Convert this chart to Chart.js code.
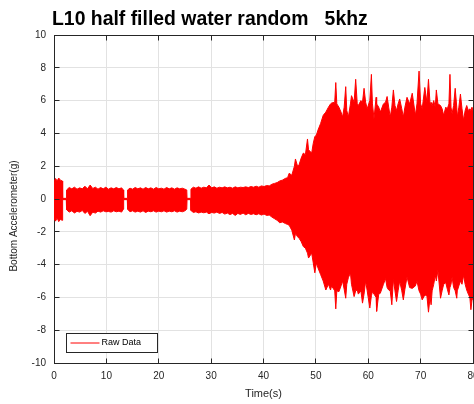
<!DOCTYPE html>
<html>
<head>
<meta charset="utf-8">
<script src="https://cdn.jsdelivr.net/npm/chart.js@4.4.1/dist/chart.umd.min.js"></script>
<style>
  html, body { margin: 0; padding: 0; background: #fff; overflow: hidden; }
  #wrap { width: 474px; height: 404px; overflow: hidden; }
</style>
</head>
<body>
<div id="wrap"><canvas id="chart" width="500" height="404"></canvas></div>
<script>
// envelope of the raw signal (seconds, g)
const sampleTime = [
  0, 0.3, 0.6, 0.9, 1.2, 1.6, 1.65, 2.35,
  2.4, 2.9, 3.4, 3.9, 4.4, 4.9, 5.4, 5.9, 6.4, 6.9, 7.4, 7.9, 8.4, 8.9, 9.4, 9.9, 10.4, 10.9, 11.4, 11.9, 12.4, 12.9, 13.25, 13.3, 14.0,
  14.05, 14.5, 15.0, 15.5, 16.0, 16.5, 17.0, 17.5, 18.0, 18.5, 19.0, 19.5, 20.0, 20.5, 21.0, 21.5, 22.0, 22.5, 23.0, 23.5, 24.0, 24.5, 25.0, 25.35, 25.4, 26.1,
  26.15, 26.6, 27.1, 27.6, 28.1, 28.6, 29.1, 29.6, 30.1, 30.6, 31.1, 31.6, 32.1, 32.6, 33.1, 33.6, 34.1, 34.6, 35.1, 35.6, 36.1, 36.6, 37.1, 37.6, 38.1, 38.6, 39.1, 39.6, 40.1, 40.6, 41.1, 41.6, 42.1, 42.6, 43.1, 43.6,
  44.2, 44.6, 44.9, 45.4, 45.9, 46.1, 46.5, 46.8, 47.2, 47.6, 48.0, 48.4, 48.6, 49.2, 49.5, 49.8, 50.1, 50.4, 50.9, 51.4, 51.9, 52.4, 52.8, 53.0, 53.6, 53.8, 54.0, 54.4, 54.8, 55.1, 55.4, 55.7, 55.9, 56.2, 56.6, 56.8, 57.3, 57.6, 57.9, 58.1, 58.6, 58.9, 59.2, 59.5, 59.8, 60.3, 60.6, 60.8, 61.1, 61.5, 61.6, 62.0,
  62.3, 62.9, 63.3, 63.6, 63.9, 64.2, 64.5, 64.8, 65.1, 65.4, 65.7, 66.0, 66.4, 66.7, 67.0, 67.4, 67.9, 68.4, 69.0, 69.3, 69.7, 70.0, 70.3, 70.8, 71.2, 71.5, 71.8, 72.0, 72.2, 72.5, 72.8, 73.0, 73.3, 73.8, 74.1, 74.4, 74.8, 75.1, 75.4, 75.6, 75.8, 76.0, 76.3, 76.6, 76.9, 77.0, 77.3, 77.6, 77.9, 78.2, 78.5, 78.8, 79.1, 79.4, 79.6, 79.8, 80.0
];
const upperEnvelope = [
  1.05, 1.25, 1.1, 1.28, 1.15, 1.1, 0.04, 0.04,
  0.55, 0.7, 0.62, 0.72, 0.6, 0.68, 0.62, 0.78, 0.62, 0.85, 0.64, 0.72, 0.6, 0.7, 0.62, 0.72, 0.6, 0.68, 0.62, 0.7, 0.62, 0.68, 0.55, 0.04, 0.04,
  0.55, 0.66, 0.6, 0.7, 0.62, 0.68, 0.6, 0.7, 0.62, 0.68, 0.6, 0.7, 0.62, 0.66, 0.6, 0.7, 0.62, 0.68, 0.6, 0.68, 0.62, 0.66, 0.6, 0.55, 0.04, 0.04,
  0.6, 0.72, 0.66, 0.74, 0.66, 0.72, 0.68, 0.85, 0.68, 0.74, 0.66, 0.72, 0.68, 0.74, 0.68, 0.72, 0.66, 0.74, 0.68, 0.72, 0.7, 0.74, 0.7, 0.76, 0.72, 0.78, 0.72, 0.8, 0.76, 0.82, 0.8, 0.9, 0.95, 1.0, 1.1, 1.15,
  1.26, 1.3, 1.57, 1.45, 2.0, 2.44, 2.0, 2.1, 2.5, 2.8, 2.7, 3.66, 3.0, 2.8, 3.4, 3.8, 3.9, 4.2, 4.6, 5.1, 5.3, 5.6, 5.8, 5.85, 5.9, 7.1, 5.8, 5.6, 5.3, 5.0, 5.6, 6.85, 5.4, 5.0, 5.8, 6.3, 5.9, 7.3, 5.8, 5.7, 6.0, 5.9, 6.75, 5.9, 5.5, 6.0, 7.6, 5.8, 4.9, 6.2, 5.8, 5.6,
  5.3, 5.8, 5.9, 6.25, 5.6, 5.0, 5.6, 6.65, 5.7, 5.4, 5.8, 6.1, 5.5, 5.0, 5.6, 6.2, 5.8, 6.45, 5.1, 5.8, 7.8, 5.8, 5.5, 6.8, 5.9, 7.3, 5.8, 5.9, 5.7, 6.0, 5.6, 6.65, 5.8, 5.7, 5.5, 5.1, 5.6, 5.5, 5.8, 7.6, 5.6, 5.2, 5.7, 6.75, 5.6, 5.0, 5.6, 6.4, 5.5, 4.8, 5.4, 5.7, 5.4, 5.5, 5.4, 5.6, 5.4
];
const lowerEnvelope = [
  -1.2, -1.35, -1.15, -1.38, -1.25, -1.3, -0.04, -0.04,
  -0.65, -0.8, -0.72, -0.85, -0.75, -0.8, -0.7, -0.88, -0.75, -1.02, -0.8, -0.86, -0.74, -0.8, -0.72, -0.78, -0.76, -0.8, -0.72, -0.78, -0.74, -0.8, -0.62, -0.04, -0.04,
  -0.62, -0.78, -0.72, -0.8, -0.74, -0.8, -0.72, -0.82, -0.74, -0.78, -0.72, -0.8, -0.74, -0.78, -0.72, -0.8, -0.74, -0.78, -0.72, -0.8, -0.74, -0.78, -0.72, -0.62, -0.04, -0.04,
  -0.7, -0.82, -0.78, -0.85, -0.8, -0.84, -0.8, -0.9, -0.82, -0.86, -0.8, -0.88, -0.82, -0.92, -0.86, -0.95, -0.88, -1.0, -0.88, -0.94, -0.86, -0.96, -0.88, -0.94, -0.9, -0.96, -0.9, -0.98, -0.92, -1.0, -0.98, -1.1, -1.2, -1.3, -1.45, -1.4,
  -1.5, -1.55, -1.6, -1.9, -2.5, -2.1, -2.3, -2.4, -2.6, -2.9, -3.0, -3.3, -3.6, -3.3, -3.9, -4.5, -3.9, -4.2, -4.6, -5.0, -5.55, -5.2, -5.55, -5.3, -5.6, -6.7, -5.6, -5.65, -5.3, -5.0, -5.5, -6.05, -5.2, -4.8, -4.5, -5.2, -5.95, -5.6, -5.55, -5.8, -5.6, -6.35, -5.8, -5.0, -5.6, -6.65, -5.9, -5.65, -5.8, -6.0, -6.85, -5.8,
  -5.75, -5.2, -4.85, -5.4, -5.55, -5.6, -6.45, -4.9, -5.6, -6.25, -5.6, -5.0, -5.6, -6.15, -5.5, -4.75, -5.4, -5.45, -5.3, -5.0, -5.6, -5.8, -6.15, -5.85, -5.9, -6.9, -6.0, -6.45, -5.6, -5.2, -4.65, -5.0, -4.35, -6.05, -5.6, -5.2, -5.1, -5.5, -5.85, -5.4, -5.2, -4.75, -5.4, -5.6, -6.05, -5.6, -5.3, -5.0, -5.2, -4.65, -5.2, -5.55, -5.8, -6.0, -6.75, -6.2, -6.0
];
const timeTicks = [0, 10, 20, 30, 40, 50, 60, 70, 80];
const accelTicks = [-10, -8, -6, -4, -2, 0, 2, 4, 6, 8, 10];

const titleText = 'L10 half filled water random   5khz';
const yTitle = 'Bottom Accelerometer(g)';
const xTitle = 'Time(s)';
const legendLabel = 'Raw Data';

const axisColor = '#262626';
const gridColor = '#e2e2e2';
const red = '#ff0000';
const fontFam = '"Liberation Sans", Arial, Helvetica, sans-serif';

Chart.defaults.font.family = fontFam;

function crisp(p) { return Math.round(p - 0.5) + 0.5; }

// matlab style box, inward ticks, title, ylabel and legend
const matlabFrame = {
  id: 'matlabFrame',
  afterDatasetsDraw(chart) {
    const { ctx, chartArea: a, scales: { x, y } } = chart;
    const L = crisp(a.left), R = crisp(a.right), T = crisp(a.top), B = crisp(a.bottom);
    ctx.save();
    ctx.strokeStyle = axisColor;
    ctx.lineWidth = 1;
    ctx.beginPath();
    ctx.moveTo(L, T); ctx.lineTo(R, T); ctx.lineTo(R, B);
    timeTicks.forEach(v => {
      const px = crisp(x.getPixelForValue(v));
      ctx.moveTo(px, B); ctx.lineTo(px, B - 5);
      ctx.moveTo(px, T); ctx.lineTo(px, T + 5);
    });
    accelTicks.forEach(v => {
      const py = crisp(y.getPixelForValue(v));
      ctx.moveTo(L, py); ctx.lineTo(L + 5, py);
      ctx.moveTo(R, py); ctx.lineTo(R - 5, py);
    });
    ctx.stroke();

    // legend box, lower left inside the axes
    const lx = crisp(a.left + 12.5), ly = crisp(a.bottom - 29.5);
    ctx.fillStyle = '#fff';
    ctx.fillRect(lx, ly, 91, 19);
    ctx.strokeRect(lx, ly, 91, 19);
    ctx.strokeStyle = red;
    ctx.beginPath();
    ctx.moveTo(lx + 4, ly + 9.5); ctx.lineTo(lx + 33, ly + 9.5);
    ctx.stroke();
    ctx.fillStyle = '#000';
    ctx.font = '9px ' + fontFam;
    ctx.textBaseline = 'middle';
    ctx.textAlign = 'left';
    ctx.fillText(legendLabel, lx + 35, ly + 9.5);
    ctx.restore();
  },
  afterDraw(chart) {
    const { ctx } = chart;
    ctx.save();
    ctx.fillStyle = '#000';
    ctx.font = 'bold 19.4px ' + fontFam;
    ctx.textAlign = 'left';
    ctx.textBaseline = 'alphabetic';
    ctx.fillText(titleText, 52, 25);

    ctx.translate(14.5, 216);
    ctx.rotate(-Math.PI / 2);
    ctx.fillStyle = axisColor;
    ctx.font = '10px ' + fontFam;
    ctx.textAlign = 'center';
    ctx.textBaseline = 'middle';
    ctx.fillText(yTitle, 0, 0);
    ctx.restore();
  }
};

const upperPts = sampleTime.map((t, i) => ({ x: t, y: upperEnvelope[i] }));
const lowerPts = sampleTime.map((t, i) => ({ x: t, y: lowerEnvelope[i] }));

new Chart(document.getElementById('chart'), {
  type: 'line',
  data: {
    datasets: [
      {
        label: legendLabel,
        data: upperPts,
        borderColor: red,
        backgroundColor: red,
        borderWidth: 1,
        pointRadius: 0,
        fill: 'origin'
      },
      {
        label: legendLabel + ' (min)',
        data: lowerPts,
        borderColor: red,
        backgroundColor: red,
        borderWidth: 1,
        pointRadius: 0,
        fill: 'origin'
      }
    ]
  },
  options: {
    responsive: false,
    animation: false,
    layout: { padding: { left: 0, top: 35, right: 27, bottom: 0 } },
    plugins: {
      legend: { display: false },
      title: { display: false },
      tooltip: { enabled: false }
    },
    scales: {
      x: {
        type: 'linear',
        min: 0,
        max: 80,
        afterBuildTicks: s => { s.ticks = timeTicks.map(v => ({ value: v })); },
        afterFit: s => { s.height = 41; },
        grid: { color: gridColor, drawTicks: false },
        border: { display: true, color: axisColor, width: 1 },
        ticks: { color: axisColor, font: { size: 10 }, padding: 7, maxRotation: 0 },
        title: { display: true, text: xTitle, color: axisColor, font: { size: 11 }, padding: { top: 0, bottom: 3 } }
      },
      y: {
        type: 'linear',
        min: -10,
        max: 10,
        afterBuildTicks: s => { s.ticks = accelTicks.map(v => ({ value: v })); },
        afterFit: s => { s.width = 54; },
        grid: { color: gridColor, drawTicks: false },
        border: { display: true, color: axisColor, width: 1 },
        ticks: { color: axisColor, font: { size: 10 }, padding: 8 }
      }
    }
  },
  plugins: [matlabFrame]
});
</script>
</body>
</html>
